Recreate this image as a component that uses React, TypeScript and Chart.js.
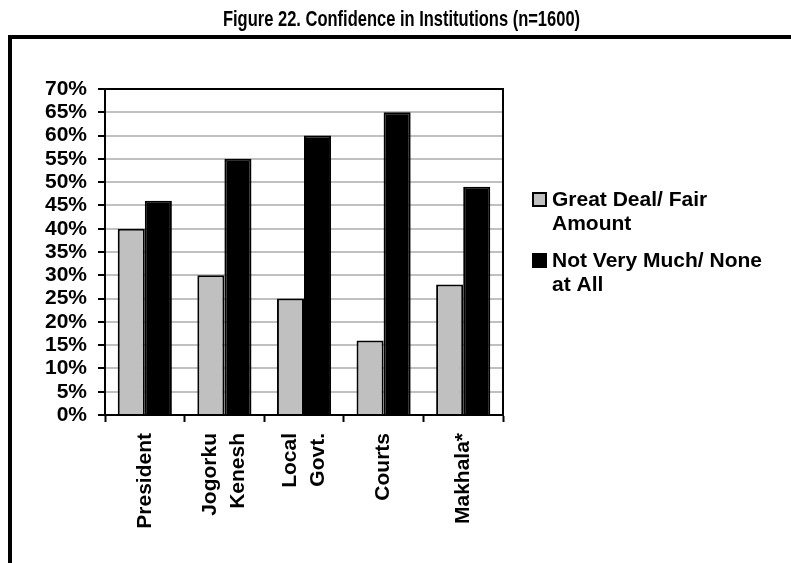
import { useEffect, useRef } from "react";
import { Chart, registerables } from "chart.js";

Chart.register(...registerables);

const titleText = "Figure 22. Confidence in Institutions (n=1600)";
const categories: string[][] = [
  ["President"],
  ["Jogorku", "Kenesh"],
  ["Local", "Govt."],
  ["Courts"],
  ["Makhala*"],
];
const seriesNames = ["Great Deal/ Fair Amount", "Not Very Much/ None at All"];
const legendLines = [
  ["Great Deal/ Fair", "Amount"],
  ["Not Very Much/ None", "at All"],
];
const greatDealFair = [40, 30, 25, 16, 28];
const notVeryMuchNone = [46, 55, 60, 65, 49];
const yMin = 0;
const yMax = 70;
const yStep = 5;
const seriesColors = ["#c0c0c0", "#000000"];

const FONT = "'Liberation Sans', Arial, Helvetica, sans-serif";

const decorPlugin = {
  id: "decor",
  beforeDraw(chart: any) {
    const ctx = chart.ctx as CanvasRenderingContext2D;
    ctx.save();
    ctx.fillStyle = "#ffffff";
    ctx.fillRect(0, 0, chart.width, chart.height);
    ctx.fillStyle = "#000000";
    ctx.fillRect(8, 35, 4, chart.height - 35);
    ctx.fillRect(8, 35, chart.width - 8, 4);
    ctx.font = `bold 22px ${FONT}`;
    ctx.textAlign = "center";
    ctx.textBaseline = "alphabetic";
    ctx.translate(401.5, 25.5);
    ctx.scale(0.75, 1);
    ctx.fillText(titleText, 0, 0);
    ctx.restore();
  },
  afterDatasetsDraw(chart: any) {
    const ctx = chart.ctx as CanvasRenderingContext2D;
    const a = chart.chartArea;
    ctx.save();
    ctx.strokeStyle = "#000000";
    ctx.lineWidth = 2;
    ctx.strokeRect(a.left, a.top, a.right - a.left, a.bottom - a.top);

    // category labels (rotated, multi-line centred on the category)
    const xs = chart.scales.x;
    ctx.fillStyle = "#000";
    ctx.font = `bold 21px ${FONT}`;
    ctx.textAlign = "right";
    ctx.textBaseline = "middle";
    const lineH = 28.5;
    const labelTop = a.bottom + 18;
    (chart.data.labels as string[][]).forEach((lines, i) => {
      const cx = xs.getPixelForValue(i);
      lines.forEach((line, j) => {
        const off = (j - (lines.length - 1) / 2) * lineH;
        ctx.save();
        ctx.translate(cx + off, labelTop);
        ctx.rotate(-Math.PI / 2);
        ctx.fillText(line, 0, 0);
        ctx.restore();
      });
    });

    // legend
    const boxX = a.right + 30;
    const textX = a.right + 49;
    let y = 193;
    ctx.font = `bold 21px ${FONT}`;
    ctx.textAlign = "left";
    ctx.textBaseline = "middle";
    chart.data.datasets.forEach((ds: any, i: number) => {
      ctx.fillStyle = ds.backgroundColor;
      ctx.fillRect(boxX, y, 13, 13);
      ctx.lineWidth = 2;
      ctx.strokeStyle = "#000";
      ctx.strokeRect(boxX, y, 13, 13);
      ctx.fillStyle = "#000";
      legendLines[i].forEach((line, j) => {
        ctx.fillText(line, textX, y + 7 + j * 24.5);
      });
      y += 61;
    });
    ctx.restore();
  },
};

export default function App() {
  const ref = useRef<HTMLCanvasElement | null>(null);
  useEffect(() => {
    if (!ref.current) return;
    const chart = new Chart(ref.current, {
      type: "bar",
      data: {
        labels: categories as any,
        datasets: [
          {
            label: seriesNames[0],
            data: greatDealFair,
            backgroundColor: seriesColors[0],
            borderColor: "#000",
            borderWidth: 2,
            categoryPercentage: 0.68,
            barPercentage: 1,
          },
          {
            label: seriesNames[1],
            data: notVeryMuchNone,
            backgroundColor: seriesColors[1],
            borderColor: "#000",
            borderWidth: 2,
            categoryPercentage: 0.68,
            barPercentage: 1,
          },
        ],
      },
      options: {
        responsive: false,
        animation: false,
        devicePixelRatio: 1,
        layout: { padding: { top: 89, right: 288, left: 0, bottom: 0 } },
        plugins: {
          legend: { display: false },
          title: { display: false },
          tooltip: { enabled: false },
        },
        scales: {
          x: {
            afterFit: (s: any) => {
              s.height = 148;
            },
            grid: {
              display: true,
              drawOnChartArea: false,
              drawTicks: true,
              tickLength: 7,
              tickColor: "#000",
              tickWidth: 2,
              offset: true,
            },
            border: { display: true, color: "#000", width: 2 },
            ticks: { display: false, autoSkip: false },
          },
          y: {
            min: yMin,
            max: yMax,
            afterFit: (s: any) => {
              s.width = 105;
            },
            grid: {
              color: "#c0c0c0",
              lineWidth: 2,
              drawTicks: true,
              tickLength: 7,
              tickColor: "#000",
              tickWidth: 2,
            },
            border: { display: true, color: "#000", width: 2 },
            ticks: {
              stepSize: yStep,
              autoSkip: false,
              color: "#000",
              font: { family: FONT, size: 21, weight: "bold" },
              padding: 11,
              callback: (v: any) => `${v}%`,
            },
          },
        },
      } as any,
      plugins: [decorPlugin],
    });
    return () => chart.destroy();
  }, []);
  return (
    <canvas
      ref={ref}
      width={791}
      height={563}
      style={{ position: "fixed", left: 0, top: 0, width: 791, height: 563, display: "block" }}
    />
  );
}
